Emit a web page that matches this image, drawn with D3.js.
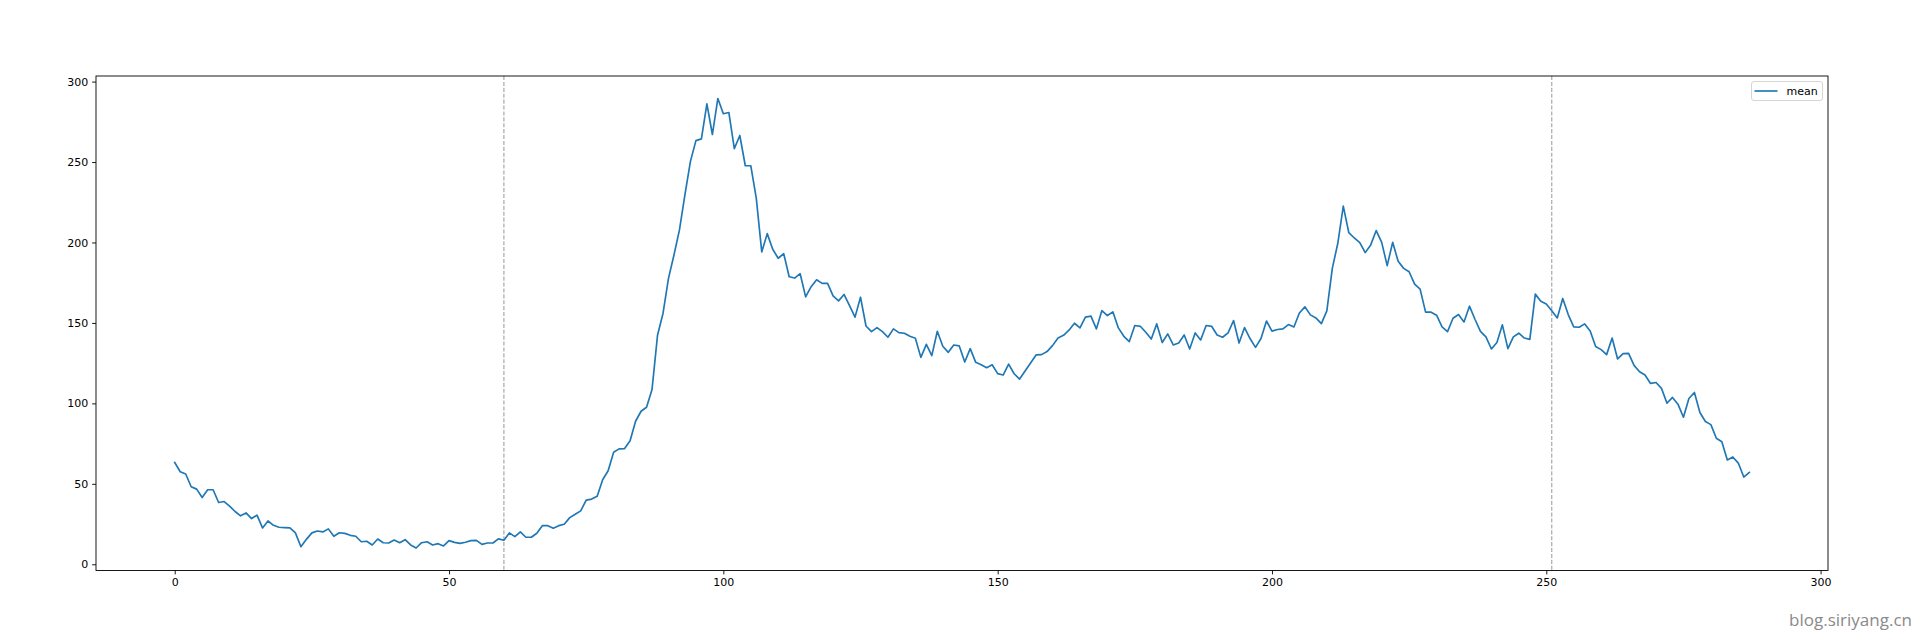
<!DOCTYPE html>
<html>
<head>
<meta charset="utf-8">
<script src="https://cdn.jsdelivr.net/npm/d3@7"></script>
<style>
  html, body { margin: 0; padding: 0; background: #fff; }
  svg { display: block; }
</style>
</head>
<body>
<svg id="chart" width="1924" height="640"></svg>
<script>
// ---- data ----
const meanValues = [
  63.3, 57.5, 56.1, 48.2, 46.7, 41.5, 46.3, 46.3, 38.4, 39.0,
  36.1, 32.8, 30.1, 31.9, 28.4, 30.5, 22.6, 26.9, 24.2, 23.0,
  22.8, 22.6, 19.5, 10.9, 15.5, 19.5, 20.7, 20.1, 22.0, 17.4,
  19.6, 19.2, 18.0, 17.4, 14.0, 14.3, 12.0, 15.7, 13.4, 13.2,
  15.1, 13.4, 15.3, 12.0, 10.1, 13.4, 14.0, 12.0, 12.8, 11.4,
  14.7, 13.6, 13.0, 13.7, 14.7, 14.9, 12.4, 13.2, 13.2, 15.8,
  14.9, 19.5, 17.2, 20.1, 16.8, 16.8, 19.3, 24.0, 24.0, 22.4,
  24.0, 24.9, 29.0, 31.1, 33.2, 39.9, 40.5, 42.3, 52.5, 58.1,
  69.6, 71.7, 71.9, 76.8, 88.9, 95.1, 97.6, 108.6, 142.3, 155.9,
  177.7, 192.2, 207.8, 229.7, 250.4, 263.3, 264.4, 286.2, 267.1, 289.5,
  280.0, 280.8, 258.3, 266.5, 247.7, 247.7, 227.6, 194.1, 205.5, 195.8,
  190.2, 193.1, 178.7, 177.9, 180.6, 166.2, 172.5, 176.8, 174.6, 174.6,
  166.8, 163.7, 167.7, 160.8, 153.6, 166.0, 148.1, 144.6, 147.1, 144.6,
  141.1, 146.3, 144.0, 143.6, 141.7, 140.5, 128.6, 136.7, 129.7, 144.8,
  135.5, 131.7, 136.3, 135.7, 125.7, 134.0, 125.5, 124.0, 122.2, 124.0,
  118.5, 117.6, 124.4, 118.4, 115.1, 120.1, 125.1, 130.1, 130.3, 132.2,
  135.9, 140.7, 142.3, 145.5, 149.8, 146.9, 153.6, 154.2, 146.3, 157.7,
  154.6, 156.9, 146.9, 141.7, 138.4, 148.4, 147.9, 144.2, 140.0, 149.4,
  137.8, 143.2, 136.3, 137.5, 142.5, 133.8, 143.8, 139.4, 148.4, 147.9,
  142.5, 141.1, 143.8, 151.5, 137.5, 147.1, 140.3, 134.8, 140.3, 151.2,
  144.9, 145.9, 146.3, 149.0, 147.5, 156.2, 160.0, 155.0, 153.1, 149.6,
  157.5, 183.9, 199.5, 222.6, 206.1, 202.8, 199.9, 193.7, 198.5, 207.4,
  200.1, 185.6, 200.1, 188.3, 183.9, 181.8, 174.1, 171.0, 156.7, 156.7,
  154.8, 147.5, 144.6, 152.9, 155.2, 150.6, 160.4, 152.3, 144.8, 141.3,
  133.8, 137.8, 148.8, 134.0, 141.3, 143.6, 140.6, 139.8, 167.9, 163.4,
  161.8, 157.6, 153.1, 165.2, 155.2, 147.5, 147.3, 149.4, 145.0, 135.3,
  133.4, 130.3, 140.6, 127.6, 130.9, 131.1, 123.6, 119.7, 117.6, 112.4,
  113.0, 109.3, 100.1, 103.7, 99.5, 91.4, 103.0, 106.8, 94.3, 88.7,
  86.8, 78.3, 76.2, 64.8, 66.7, 62.9, 54.2, 57.1
];
const xIndex = meanValues.map((_, i) => i);
const markerLines = [60, 251];
const xTicks = [0, 50, 100, 150, 200, 250, 300];
const yTicks = [0, 50, 100, 150, 200, 250, 300];
const seriesName = "mean";
const watermark = "blog.siriyang.cn";

// ---- layout ----
const plot = { left: 96, right: 1828, top: 76, bottom: 570.5 };
const FONT = "'DejaVu Sans', sans-serif";

const svg = d3.select("#chart");

// matplotlib-style 5% margins
const xmin = d3.min(xIndex), xmax = d3.max(xIndex);
const xpad = (xmax - xmin) * 0.05;
const ymin = d3.min(meanValues), ymax = d3.max(meanValues);
const ypad = (ymax - ymin) * 0.05;

const x = d3.scaleLinear().domain([xmin - xpad, xmax + xpad]).range([plot.left, plot.right]);
const y = d3.scaleLinear().domain([ymin - ypad, ymax + ypad]).range([plot.bottom, plot.top]);

// vertical dashed marker lines
svg.append("g").selectAll("line").data(markerLines).join("line")
  .attr("x1", d => x(d)).attr("x2", d => x(d))
  .attr("y1", plot.top).attr("y2", plot.bottom)
  .attr("stroke", "#a0a0a0").attr("stroke-width", 1.1)
  .attr("stroke-dasharray", "4.1,1.8");

// line
const line = d3.line().x((d, i) => x(xIndex[i])).y(d => y(d));
svg.append("path").datum(meanValues)
  .attr("d", line)
  .attr("fill", "none")
  .attr("stroke", "#1f77b4")
  .attr("stroke-width", 1.67)
  .attr("stroke-linejoin", "round")
  .attr("stroke-linecap", "square");

// axes
const xAxis = d3.axisBottom(x).tickValues(xTicks).tickSize(3.9).tickPadding(3.9).tickFormat(d3.format("d"));
const yAxis = d3.axisLeft(y).tickValues(yTicks).tickSize(3.9).tickPadding(3.9).tickFormat(d3.format("d"));

const gx = svg.append("g").attr("transform", `translate(0,${plot.bottom})`).call(xAxis);
const gy = svg.append("g").attr("transform", `translate(${plot.left},0)`).call(yAxis);
[gx, gy].forEach(g => {
  g.select(".domain").remove();
  g.selectAll(".tick line").attr("stroke", "#000").attr("stroke-width", 0.9);
  g.selectAll(".tick text").attr("fill", "#000").style("font-family", FONT).style("font-size", "11px");
});

// frame (spines)
svg.append("rect")
  .attr("x", plot.left).attr("y", plot.top)
  .attr("width", plot.right - plot.left).attr("height", plot.bottom - plot.top)
  .attr("fill", "none").attr("stroke", "#000").attr("stroke-width", 0.9);

// legend
const lg = svg.append("g").attr("transform", `translate(${plot.right - 5.5},${plot.top + 5.5})`);
const lgW = 71, lgH = 19;
lg.append("rect").attr("x", -lgW).attr("y", 0).attr("width", lgW).attr("height", lgH)
  .attr("rx", 2.5).attr("fill", "#fff").attr("fill-opacity", 0.8)
  .attr("stroke", "#d0d0d0").attr("stroke-width", 0.9);
lg.append("line").attr("x1", -lgW + 3).attr("x2", -lgW + 26).attr("y1", lgH / 2).attr("y2", lgH / 2)
  .attr("stroke", "#1f77b4").attr("stroke-width", 1.67);
lg.append("text").attr("x", -lgW + 35).attr("y", lgH / 2).attr("dy", "0.35em")
  .style("font-family", FONT).style("font-size", "11px").attr("fill", "#000").text(seriesName);

// watermark
svg.append("text").attr("x", 1912).attr("y", 626).attr("text-anchor", "end")
  .style("font-family", "'Open Sans', 'Noto Sans', sans-serif").style("font-size", "17px")
  .attr("fill", "#8a8a8a").text(watermark);
</script>
</body>
</html>
